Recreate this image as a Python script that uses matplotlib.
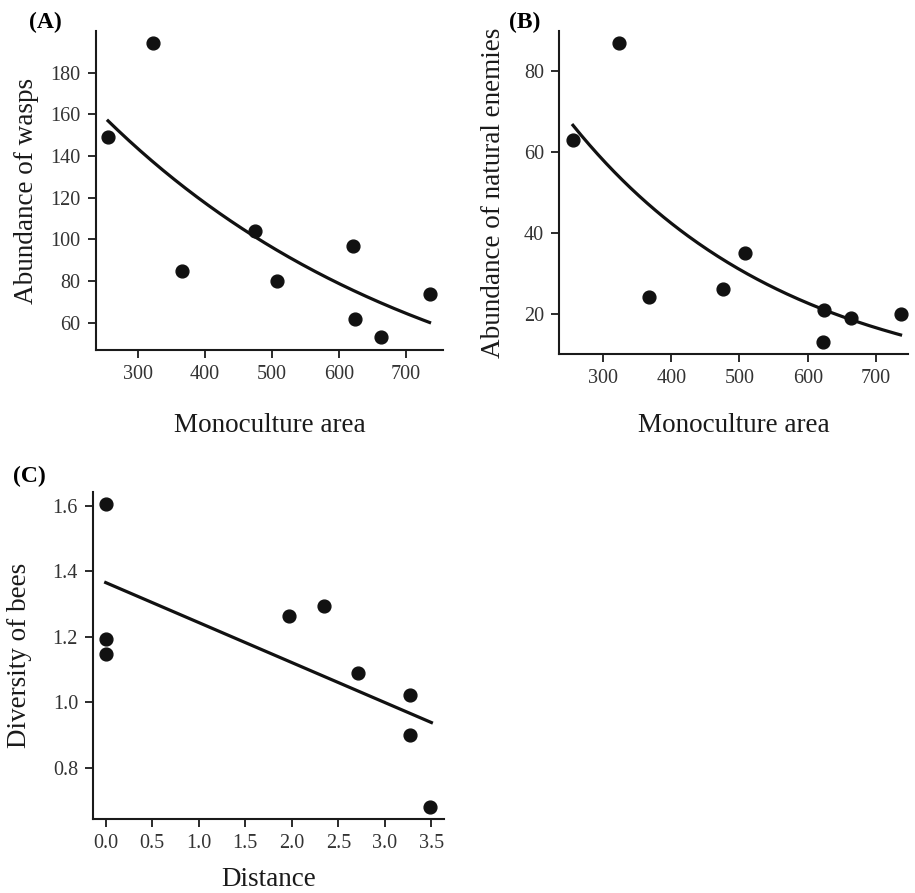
import matplotlib
matplotlib.use('Agg')
import matplotlib.pyplot as plt
import numpy as np

plt.rcParams['font.family'] = ['Liberation Serif', 'DejaVu Serif']

# (A) wasps vs monoculture area
area_a = [256, 323, 366, 475, 508, 621, 624, 663, 735]
wasps = [149, 194, 85, 104, 80, 97, 62, 53, 74]
# exponential fit: y = a * exp(b * (x - x0))
fit_a = (156.9, -0.0020, 256)

# (B) natural enemies vs monoculture area
area_b = [256, 324, 367, 476, 508, 624, 622, 663, 736]
enemies = [63, 87, 24, 26, 35, 21, 13, 19, 20]
fit_b = (66.6, -0.003144, 256)

# (C) bee diversity vs distance
distance = [0.0, 0.0, 0.0, 1.97, 2.35, 2.71, 3.27, 3.27, 3.49]
diversity = [1.607, 1.193, 1.149, 1.265, 1.294, 1.088, 1.021, 0.899, 0.680]
fit_c = (1.366, -0.1223)


def style_axes(ax):
    ax.spines['top'].set_visible(False)
    ax.spines['right'].set_visible(False)
    for s in ['left', 'bottom']:
        ax.spines[s].set_linewidth(1.5)
        ax.spines[s].set_color('#1a1a1a')
    ax.tick_params(direction='out', length=6, width=1.3, color='#1a1a1a',
                   labelsize=14.5, labelcolor='#333333', pad=5)


fig = plt.figure(figsize=(9.15, 8.93), dpi=100)

# panel A
ax1 = fig.add_axes([0.1049, 0.6081, 0.3792, 0.3572])
ax1.scatter(area_a, wasps, s=85, color='#111111', zorder=3)
xa = np.linspace(min(area_a), max(area_a), 200)
ax1.plot(xa, fit_a[0] * np.exp(fit_a[1] * (xa - fit_a[2])), color='#111111', lw=2.3)
ax1.set_xlim(238, 755)
ax1.set_ylim(47, 200)
ax1.set_xticks([300, 400, 500, 600, 700])
ax1.set_yticks([60, 80, 100, 120, 140, 160, 180])
ax1.set_xlabel('Monoculture area', fontsize=19.5, labelpad=21, color='#1a1a1a')
ax1.set_ylabel('Abundance of wasps', fontsize=19.5, labelpad=8, color='#1a1a1a')
style_axes(ax1)
fig.text(45 / 915, 1 - 22 / 893, '(A)', fontsize=17, fontweight='bold',
         ha='center', va='center')

# panel B
ax2 = fig.add_axes([0.6113, 0.6036, 0.3811, 0.362])
ax2.scatter(area_b, enemies, s=85, color='#111111', zorder=3)
xb = np.linspace(min(area_b), max(area_b), 200)
ax2.plot(xb, fit_b[0] * np.exp(fit_b[1] * (xb - fit_b[2])), color='#111111', lw=2.3)
ax2.set_xlim(236, 747)
ax2.set_ylim(10, 90)
ax2.set_xticks([300, 400, 500, 600, 700])
ax2.set_yticks([20, 40, 60, 80])
ax2.set_xlabel('Monoculture area', fontsize=19.5, labelpad=18, color='#1a1a1a')
ax2.set_ylabel('Abundance of natural enemies', fontsize=19.5, labelpad=13, color='#1a1a1a')
style_axes(ax2)
fig.text(525 / 915, 1 - 22 / 893, '(B)', fontsize=17, fontweight='bold',
         ha='center', va='center')

# panel C
ax3 = fig.add_axes([0.102, 0.0829, 0.3833, 0.3665])
ax3.scatter(distance, diversity, s=85, color='#111111', zorder=3)
xc = np.linspace(0, 3.5, 50)
ax3.plot(xc, fit_c[0] + fit_c[1] * xc, color='#111111', lw=2.3)
ax3.set_xlim(-0.133, 3.636)
ax3.set_ylim(0.643, 1.644)
ax3.set_xticks([0.0, 0.5, 1.0, 1.5, 2.0, 2.5, 3.0, 3.5])
ax3.set_xticklabels(['0.0', '0.5', '1.0', '1.5', '2.0', '2.5', '3.0', '3.5'])
ax3.set_yticks([0.8, 1.0, 1.2, 1.4, 1.6])
ax3.set_yticklabels(['0.8', '1.0', '1.2', '1.4', '1.6'])
ax3.set_xlabel('Distance', fontsize=19.5, labelpad=10, color='#1a1a1a')
ax3.set_ylabel('Diversity of bees', fontsize=19.5, labelpad=15, color='#1a1a1a')
style_axes(ax3)
fig.text(29 / 915, 1 - 476 / 893, '(C)', fontsize=17, fontweight='bold',
         ha='center', va='center')

fig.savefig('out.png', dpi=100)
